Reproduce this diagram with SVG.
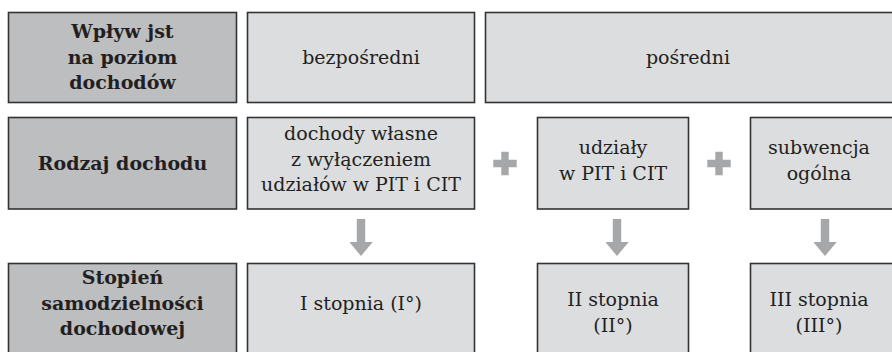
<svg xmlns="http://www.w3.org/2000/svg" xmlns:xlink="http://www.w3.org/1999/xlink" width="892" height="352" viewBox="0 0 892 352">
<style>
.hd{fill:#bdbec0;stroke:#333333;stroke-width:1.6}
.lt{fill:#dcdddf;stroke:#333333;stroke-width:1.6}
text{font-family:"DejaVu Serif","Liberation Serif",serif;font-size:19px;fill:#231f20;text-anchor:middle}
.b{font-weight:bold}
.sym{fill:#a6a7a9}
</style>
<defs>
<path id="arr" d="M-4.2,0 H4.2 V23 H11.7 L0,37 L-11.7,23 H-4.2 Z"/>
<path id="plus" d="M-3.7,-11.7 H3.7 V-3.7 H11.7 V3.7 H3.7 V11.7 H-3.7 V3.7 H-11.7 V-3.7 H-3.7 Z"/>
</defs>
<rect width="892" height="352" fill="#ffffff"/>
<g id="n-wplyw"><rect class="hd" x="8.5" y="12.5" width="228" height="90"/>
<text class="b" x="122.5" y="38">Wpływ jst</text><text class="b" x="122.5" y="63.5">na poziom</text><text class="b" x="122.5" y="89">dochodów</text></g>
<g id="n-bezposredni"><rect class="lt" x="247.5" y="12.5" width="227" height="90"/>
<text x="361" y="64">bezpośredni</text></g>
<g id="n-posredni"><rect class="lt" x="485.5" y="12.5" width="420" height="90"/>
<text x="688" y="64">pośredni</text></g>
<g id="n-rodzaj"><rect class="hd" x="8.5" y="117.5" width="228" height="91.5"/>
<text class="b" x="122.5" y="170">Rodzaj dochodu</text></g>
<g id="n-wlasne"><rect class="lt" x="247.5" y="117.5" width="227" height="91.5"/>
<text x="361" y="140">dochody własne</text><text x="361" y="165.5">z wyłączeniem</text><text x="361" y="191">udziałów w PIT i CIT</text></g>
<g id="n-udzialy"><rect class="lt" x="537.5" y="117.5" width="151" height="91.5"/>
<text x="613" y="154">udziały</text><text x="613" y="180">w PIT i CIT</text></g>
<g id="n-subwencja"><rect class="lt" x="750.5" y="117.5" width="160" height="91.5"/>
<text x="819" y="154">subwencja</text><text x="819" y="180">ogólna</text></g>
<g id="n-stopien"><rect class="hd" x="8.5" y="263.5" width="228" height="100"/>
<text class="b" x="122.5" y="284">Stopień</text><text class="b" x="122.5" y="309.5">samodzielności</text><text class="b" x="122.5" y="335">dochodowej</text></g>
<g id="n-I"><rect class="lt" x="247.5" y="263.5" width="227" height="100"/>
<text x="361" y="310">I stopnia (I°)</text></g>
<g id="n-II"><rect class="lt" x="537.5" y="263.5" width="151" height="100"/>
<text x="613" y="306">II stopnia</text><text x="613" y="332">(II°)</text></g>
<g id="n-III"><rect class="lt" x="750.5" y="263.5" width="160" height="100"/>
<text x="819" y="306">III stopnia</text><text x="819" y="332">(III°)</text></g>
<g id="plus-signs" class="sym">
<use xlink:href="#plus" x="505" y="163.5"/>
<use xlink:href="#plus" x="719" y="163.5"/>
</g>
<g id="connectors" class="sym">
<use xlink:href="#arr" x="361" y="219"/>
<use xlink:href="#arr" x="617" y="219"/>
<use xlink:href="#arr" x="825" y="219"/>
</g>
</svg>
